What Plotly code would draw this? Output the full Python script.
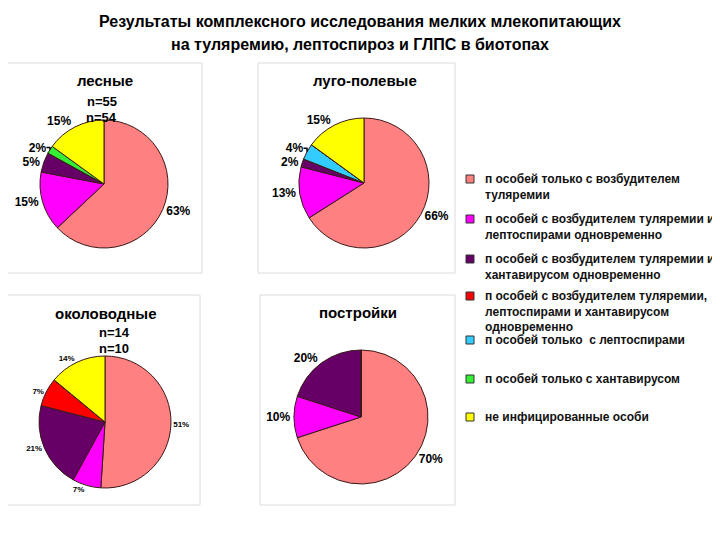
import plotly.graph_objects as go

# the page body has an 8px margin, so the figure is a bit smaller than the window
OFF = 8
W, H = 712, 524

# categories (order of slices and legend)
categories = [
    "п особей только с возбудителем<br>туляремии",
    "п особей с возбудителем туляремии и<br>лептоспирами одновременно",
    "п особей с возбудителем туляремии и<br>хантавирусом одновременно",
    "п особей с возбудителем туляремии,<br>лептоспирами и хантавирусом<br>одновременно",
    "п особей только  с лептоспирами",
    "п особей только с хантавирусом",
    "не инфицированные особи",
]
colors = ["#FF8080", "#FF00FF", "#660066", "#FF0000", "#33CCFF", "#33EE33", "#FFFF00"]

# percent values per biotope (same order as categories)
forest = [63, 15, 5, 0, 0, 2, 15]
meadow = [66, 13, 2, 0, 4, 0, 15]
water = [51, 7, 21, 7, 0, 0, 14]
buildings = [70, 10, 20, 0, 0, 0, 0]

panel_titles = ["лесные", "луго-полевые", "околоводные", "постройки"]
sample_sizes = ["n=55", "n=54", "n=14", "n=10"]


def px(x):
    return (x - OFF) / W


def py(y):
    return 1 - (y - OFF) / H


def dom(cx, cy, r):
    return dict(x=[px(cx - r), px(cx + r)], y=[py(cy + r), py(cy - r)])


fig = go.Figure()

# Pie charts
pies = [
    (forest, dom(104, 184, 64), 12),
    (meadow, dom(364, 183, 65), 12),
    (water, dom(105, 422, 66), 8),
    (buildings, dom(361, 417, 67), 12),
]
for values, domain, fs in pies:
    fig.add_trace(go.Pie(
        labels=categories, values=values,
        text=[f"{v}%" if v else "" for v in values],
        textinfo="text", textposition="outside",
        textfont=dict(family="Liberation Sans", size=fs, color="black", weight="bold"),
        marker=dict(colors=colors, line=dict(color="#3a1a1a", width=1)),
        sort=False, direction="clockwise", rotation=0,
        domain=domain, showlegend=False, hoverinfo="label+percent",
    ))

# Panel frames
shapes = []
for x0, y0, x1, y1 in [(7, 63, 202, 273), (258, 63, 455, 273), (7, 295, 200, 505), (260, 295, 455, 505)]:
    shapes.append(dict(type="rect", xref="paper", yref="paper",
                       x0=px(x0), x1=px(x1), y0=py(y1), y1=py(y0),
                       line=dict(color="#dcdcdc", width=1)))

annotations = []
# Panel titles
for text, (x, y) in zip(panel_titles, [(105, 81), (365, 80), (105, 313), (358, 312)]):
    annotations.append(dict(text=text, x=px(x), y=py(y), xref="paper", yref="paper",
                            showarrow=False, xanchor="center", yanchor="middle",
                            font=dict(family="Liberation Sans", size=15, color="black", weight="bold")))
# Sample sizes
for text, (x, y) in zip(sample_sizes, [(102, 101), (102, 118), (114, 332), (114, 348)]):
    annotations.append(dict(text=text, x=px(x), y=py(y), xref="paper", yref="paper",
                            showarrow=False, xanchor="center", yanchor="middle",
                            font=dict(family="Liberation Sans", size=13, color="black", weight="bold")))

# Legend (manual, to match the spacing of the original)
leg_y = [179, 219, 259, 296, 340, 379, 417]
for cat, col, y in zip(categories, colors, leg_y):
    shapes.append(dict(type="rect", xref="paper", yref="paper",
                       x0=px(466), x1=px(474), y0=py(y + 4), y1=py(y - 4),
                       fillcolor=col, line=dict(color="#333333", width=1)))
    annotations.append(dict(text=cat, x=px(483), y=py(y - 9), xref="paper", yref="paper",
                            showarrow=False, xanchor="left", yanchor="top", align="left",
                            font=dict(family="Liberation Sans", size=12, color="#111111", weight="bold")))

# Main title, two lines
for text, y in [("Результаты комплексного исследования мелких млекопитающих", 21),
                ("на туляремию, лептоспироз и ГЛПС в биотопах", 45)]:
    annotations.append(dict(text=text, x=px(360), y=py(y), xref="paper", yref="paper",
                            showarrow=False, xanchor="center", yanchor="middle",
                            font=dict(family="Liberation Sans", size=16, color="black", weight="bold")))

fig.update_layout(
    width=W, height=H,
    margin=dict(l=0, r=0, t=0, b=0),
    paper_bgcolor="white", plot_bgcolor="white",
    shapes=shapes, annotations=annotations,
)

fig.write_html("out.html")
